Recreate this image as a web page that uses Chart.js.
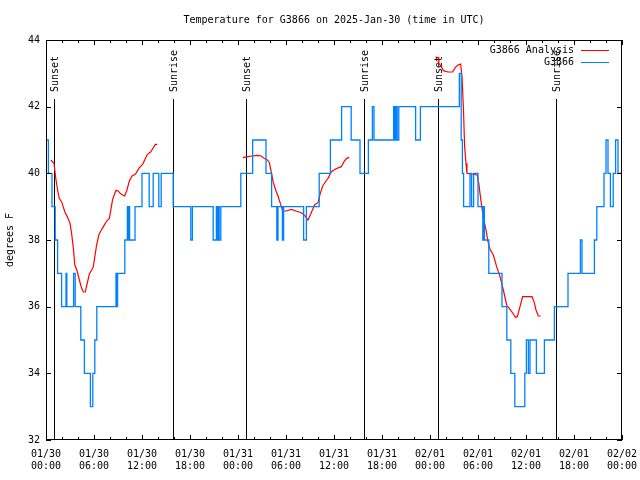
<!DOCTYPE html>
<html>
<head>
<meta charset="utf-8">
<script src="https://cdn.jsdelivr.net/npm/chart.js@4/dist/chart.umd.min.js"></script>
<style>
  body { margin: 0; background: #fff; }
</style>
</head>
<body>
<canvas id="myChart" width="640" height="480"></canvas>
<script>
// time axis is hours since 01/30 00:00 UTC
const xTickDays = ["01/30", "01/30", "01/30", "01/30", "01/31", "01/31", "01/31", "01/31", "02/01", "02/01", "02/01", "02/01", "02/02"];
const xTickTimes = ["00:00", "06:00", "12:00", "18:00", "00:00", "06:00", "12:00", "18:00", "00:00", "06:00", "12:00", "18:00", "00:00"];

// station obs (G3866), value holds from each time until the next one
const obsHours = [
  0, 0.3, 0.75, 1.15, 1.45, 1.95, 2.5, 2.6, 3.45, 3.65, 4.35, 4.8, 5.55, 5.85, 6.1, 6.35,
  8.75, 8.85, 8.95, 9.85, 10.17, 10.3, 10.38, 10.45, 11.13, 12.0, 12.9, 13.4, 14.1, 14.4, 15.9,
  18.1, 18.3, 20.9, 21.3, 21.45, 21.55, 21.65, 21.85, 24.35, 25.83, 27.5, 28.2, 28.85, 29.0,
  29.55, 29.7, 32.2, 32.55, 34.15, 35.55, 36.95, 38.15, 39.25, 40.3, 40.8, 41.0, 43.45, 43.6,
  43.75, 43.9, 44.1, 46.2, 46.8, 51.67, 51.9, 52.05, 52.2, 53.0, 53.2, 53.45, 54.0, 54.6, 54.7,
  54.8, 55.35, 57.0, 57.6, 58.1, 58.6, 59.85, 60.05, 60.3, 60.5, 61.3, 62.3, 63.55, 65.25,
  66.8, 67.0, 68.55, 68.85, 69.75, 70.0, 70.25, 70.55, 70.9, 71.2, 71.5, 72
];
const obsTemps = [
  41, 40, 39, 38, 37, 36, 37, 36, 37, 36, 35, 34, 33, 34, 35, 36,
  37, 36, 37, 38, 39, 38, 39, 38, 39, 40, 39, 40, 39, 40, 39,
  38, 39, 38, 39, 38, 39, 38, 39, 40, 41, 40, 39, 38, 39,
  38, 39, 38, 39, 40, 41, 42, 41, 40, 41, 42, 41, 42, 41,
  42, 41, 42, 41, 42, 43, 41, 40, 39, 40, 39, 40, 39, 38, 39,
  38, 37, 36, 35, 34, 33, 34, 35, 34, 35, 34, 35, 36, 37,
  38, 37, 38, 39, 40, 41, 40, 39, 40, 41, 40, 40
];

// analysis (G3866 Analysis), null breaks the line between nights
const anaHours = [
  0.6, 1.0, 1.25, 1.45, 1.65, 1.95, 2.35, 2.75, 3.0, 3.2, 3.42, 3.6, 3.85, 4.17, 4.46, 4.67,
  4.92, 5.1, 5.42, 5.71, 5.92, 6.1, 6.33, 6.6, 6.8, 7.17, 7.58, 7.92, 8.33, 8.75, 9.0, 9.42,
  9.83, 10.08, 10.42, 10.75, 11.17, 11.67, 12.08, 12.67, 13.08, 13.67, 13.92,
  19,
  24.6, 25.17, 25.83, 26.42, 26.92, 27.25, 27.67, 27.92, 28.17, 28.42, 28.75, 29.0, 29.33,
  29.58, 30.0, 30.67, 31.25, 31.92, 32.33, 32.75, 33.08, 33.58, 34.0, 34.25, 34.58, 35.0,
  35.25, 35.67, 36.25, 36.92, 37.25, 37.58, 37.9,
  43,
  48.67, 49.0, 49.1, 49.42, 49.67, 50.25, 50.83, 51.17, 51.5, 51.83, 52.0, 52.17, 52.33,
  52.5, 52.62, 53.9, 54.1, 54.3, 54.5, 54.7, 55.0, 55.25, 55.5, 55.92, 56.33, 56.75, 57.17,
  57.58, 58.0, 58.42, 58.67, 58.92, 59.25, 59.58, 60.75, 61.0, 61.25, 61.54, 61.83
];
const anaTemps = [
  40.4, 40.3, 39.8, 39.5, 39.25, 39.15, 38.85, 38.65, 38.5, 38.2, 37.75, 37.25, 37.1, 36.8, 36.55, 36.44,
  36.44, 36.65, 36.98, 37.1, 37.2, 37.5, 37.85, 38.15, 38.25, 38.4, 38.57, 38.65, 39.22, 39.49, 39.47, 39.37,
  39.32, 39.47, 39.77, 39.92, 39.97, 40.17, 40.27, 40.57, 40.64, 40.87, 40.87,
  null,
  40.47, 40.5, 40.52, 40.54, 40.52, 40.45, 40.4, 40.32, 40.02, 39.72, 39.47, 39.32, 39.07,
  38.87, 38.87, 38.92, 38.87, 38.82, 38.74, 38.6, 38.77, 39.06, 39.12, 39.37, 39.62, 39.77,
  39.85, 40.05, 40.14, 40.2, 40.35, 40.45, 40.48,
  null,
  43.48, 43.48, 43.3, 43.2, 43.08, 43.04, 43.04, 43.18, 43.25, 43.28, 42.9, 42.0, 40.8,
  40.3, 40.0, 39.95, 39.7, 39.3, 38.95, 38.65, 38.3, 37.95, 37.72, 37.55, 37.2, 36.9, 36.5,
  36.05, 35.92, 35.78, 35.68, 35.7, 36.0, 36.3, 36.3, 36.15, 35.9, 35.72, 35.72
];

const sunHours = [1.03, 15.9, 25.05, 39.8, 49.06, 63.8];
const sunLabels = ["Sunset", "Sunrise", "Sunset", "Sunrise", "Sunset", "Sunrise"];

const FONT = "'DejaVu Sans Mono', monospace";
const titleText = "Temperature for G3866 on 2025-Jan-30 (time in UTC)";

// gnuplot look: sun lines, inward tics, frame, title, legend inside the plot
const gnuplotBits = {
  id: "gnuplotBits",
  beforeDatasetsDraw(chart) {
    const { ctx, chartArea: a, scales: { x } } = chart;
    ctx.save();
    ctx.strokeStyle = "#000";
    ctx.fillStyle = "#000";
    ctx.lineWidth = 1;
    ctx.font = "10px " + FONT;
    sunHours.forEach((h, i) => {
      const px = Math.round(x.getPixelForValue(h)) + 0.5;
      ctx.beginPath();
      ctx.moveTo(px, a.top + 59);
      ctx.lineTo(px, a.bottom);
      ctx.stroke();
      ctx.save();
      ctx.translate(px + 1, a.top + 52);
      ctx.rotate(-Math.PI / 2);
      ctx.textAlign = "left";
      ctx.textBaseline = "middle";
      ctx.fillText(sunLabels[i], 0, 0);
      ctx.restore();
    });
    ctx.restore();
  },
  afterDatasetsDraw(chart) {
    const { ctx, chartArea: a, scales: { x, y } } = chart;
    ctx.save();
    ctx.strokeStyle = "#000";
    ctx.fillStyle = "#000";
    ctx.lineWidth = 1;

    // frame
    ctx.strokeRect(Math.round(a.left) + 0.5, Math.round(a.top) + 0.5,
      Math.round(a.right - a.left) - 1, Math.round(a.bottom - a.top) - 1);

    // x tics every 2 h, longer at the labelled 6 h ones
    ctx.beginPath();
    for (let h = 0; h <= 72; h += 2) {
      const px = Math.round(x.getPixelForValue(h)) + 0.5;
      const len = h % 6 === 0 ? 5 : 3;
      ctx.moveTo(px, a.bottom);
      ctx.lineTo(px, a.bottom - len);
      ctx.moveTo(px, a.top);
      ctx.lineTo(px, a.top + len);
    }
    y.ticks.forEach((t) => {
      const py = Math.round(y.getPixelForValue(t.value)) + 0.5;
      ctx.moveTo(a.left, py);
      ctx.lineTo(a.left + 5, py);
      ctx.moveTo(a.right, py);
      ctx.lineTo(a.right - 5, py);
    });
    ctx.stroke();

    // title
    ctx.font = "10px " + FONT;
    ctx.textAlign = "center";
    ctx.textBaseline = "middle";
    ctx.fillText(titleText, (a.left + a.right) / 2, 20);

    // key
    ctx.textAlign = "right";
    chart.data.datasets.forEach((ds, i) => {
      const ly = a.top + 10 + i * 12;
      ctx.fillStyle = "#000";
      ctx.fillText(ds.label, a.right - 48, ly);
      ctx.strokeStyle = ds.borderColor;
      ctx.beginPath();
      ctx.moveTo(a.right - 41, Math.round(ly) + 0.5);
      ctx.lineTo(a.right - 13, Math.round(ly) + 0.5);
      ctx.stroke();
    });
    ctx.restore();
  },
};

const ctx = document.getElementById("myChart").getContext("2d");

const data = {
  datasets: [
    {
      label: "G3866 Analysis",
      data: anaHours.map((h, i) => ({ x: h, y: anaTemps[i] })),
      borderColor: "rgb(255, 0, 0)",
      borderWidth: 1.2,
      pointRadius: 0,
      spanGaps: false,
      order: 1,
    },
    {
      label: "G3866",
      data: obsHours.map((h, i) => ({ x: h, y: obsTemps[i] })),
      borderColor: "rgb(0, 128, 255)",
      borderWidth: 1.3,
      pointRadius: 0,
      stepped: true,
      order: 0,
    },
  ],
};

const config = {
  type: "line",
  data: data,
  options: {
    responsive: false,
    animation: false,
    devicePixelRatio: 1,
    layout: { padding: { top: 40, right: 18, left: 0, bottom: 0 } },
    plugins: {
      legend: { display: false },
      title: { display: false },
      tooltip: { enabled: false },
    },
    scales: {
      x: {
        type: "linear",
        min: 0,
        max: 72,
        grid: { display: false, drawTicks: false },
        border: { display: false },
        ticks: {
          stepSize: 6,
          autoSkip: false,
          maxRotation: 0,
          padding: 8,
          color: "#000",
          font: { family: FONT, size: 10 },
          callback: function (value) {
            const i = Math.round(value / 6);
            return [xTickDays[i], xTickTimes[i]];
          },
        },
        afterFit: (s) => {
          s.height = 40;
          s.paddingLeft = 0;
          s.paddingRight = 0;
        },
      },
      y: {
        min: 32,
        max: 44,
        grid: { display: false, drawTicks: false },
        border: { display: false },
        ticks: {
          stepSize: 2,
          padding: 6,
          color: "#000",
          font: { family: FONT, size: 10 },
        },
        title: {
          display: true,
          text: "degrees F",
          color: "#000",
          font: { family: FONT, size: 10 },
        },
        afterFit: (s) => {
          s.width = 46;
          s.paddingTop = 0;
          s.paddingBottom = 0;
        },
      },
    },
  },
  plugins: [gnuplotBits],
};

const myChart = new Chart(ctx, config);
</script>
</body>
</html>
